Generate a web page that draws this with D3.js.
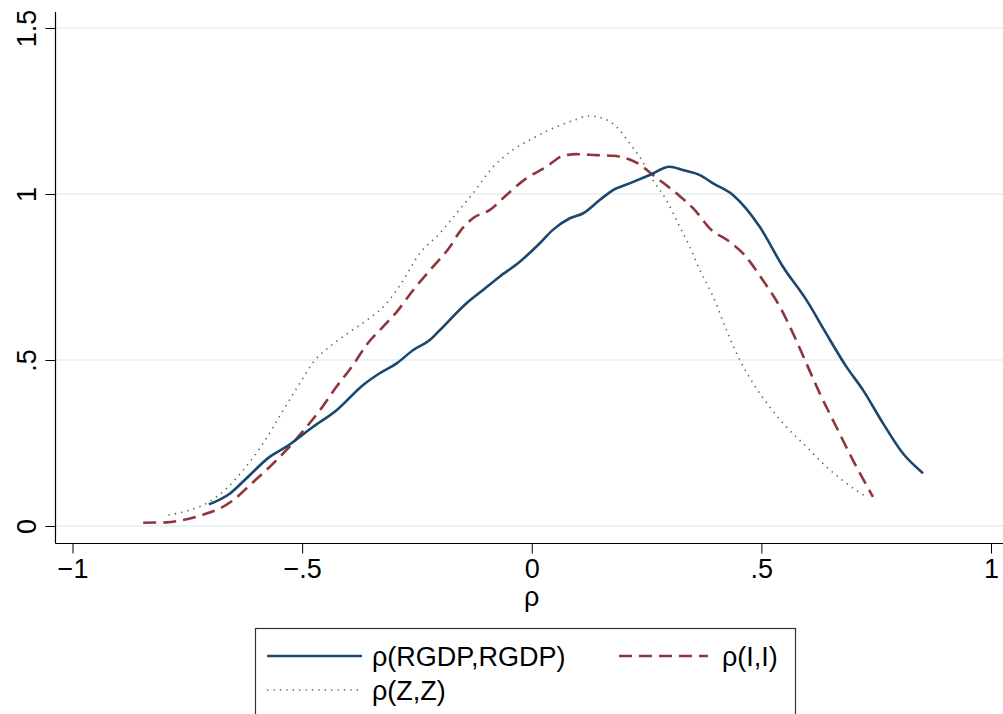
<!DOCTYPE html>
<html>
<head>
<meta charset="utf-8">
<script src="https://cdn.jsdelivr.net/npm/d3@7"></script>
<style>
  body { margin: 0; background: #fff; }
  svg { display: block; font-family: "Liberation Sans", Arial, sans-serif; }
  .axis text { font-size: 27px; fill: #000; }
  .axis line { stroke: #000; }
</style>
</head>
<body>
<div id="chart"></div>
<script>

// series: [rho, density]
var rgdp = [[-0.703,0.065],[-0.657,0.098],[-0.621,0.144],[-0.570,0.209],[-0.534,0.239],[-0.476,0.299],
    [-0.425,0.349],[-0.367,0.425],[-0.331,0.460],[-0.294,0.490],[-0.258,0.530],[-0.222,0.560],[-0.200,0.590],
    [-0.142,0.671],[-0.106,0.711],[-0.070,0.751],[-0.026,0.796],[0.017,0.851],[0.046,0.892],[0.083,0.927],
    [0.112,0.942],[0.148,0.982],[0.177,1.012],[0.213,1.032],[0.257,1.057],[0.300,1.082],[0.329,1.072],
    [0.366,1.057],[0.395,1.032],[0.438,0.997],[0.496,0.902],[0.547,0.781],[0.598,0.681],[0.641,0.580],
    [0.685,0.480],[0.721,0.410],[0.765,0.309],[0.808,0.219],[0.852,0.159]];

var invest = [[-0.846,0.010],[-0.795,0.011],[-0.766,0.016],[-0.723,0.031],[-0.679,0.053],[-0.650,0.078],
    [-0.614,0.123],[-0.570,0.179],[-0.534,0.229],[-0.490,0.299],[-0.461,0.349],[-0.425,0.420],[-0.389,0.485],
    [-0.360,0.545],[-0.324,0.600],[-0.294,0.645],[-0.258,0.711],[-0.215,0.781],[-0.178,0.841],[-0.157,0.886],
    [-0.128,0.927],[-0.091,0.952],[-0.055,0.997],[-0.012,1.047],[0.032,1.082],[0.068,1.115],[0.097,1.120],
    [0.141,1.117],[0.177,1.115],[0.213,1.104],[0.235,1.089],[0.264,1.057],[0.315,1.002],[0.358,0.947],
    [0.387,0.897],[0.431,0.856],[0.460,0.821],[0.503,0.741],[0.540,0.661],[0.569,0.580],[0.598,0.490],
    [0.627,0.400],[0.663,0.299],[0.699,0.199],[0.743,0.088]];

var zz = [[-0.791,0.033],[-0.744,0.048],[-0.702,0.073],[-0.664,0.114],[-0.628,0.169],[-0.585,0.249],
    [-0.541,0.349],[-0.505,0.430],[-0.472,0.500],[-0.440,0.540],[-0.396,0.585],[-0.353,0.626],[-0.316,0.671],
    [-0.284,0.731],[-0.244,0.821],[-0.200,0.882],[-0.164,0.942],[-0.128,1.002],[-0.084,1.082],[-0.041,1.133],
    [0.003,1.168],[0.046,1.198],[0.090,1.221],[0.123,1.235],[0.155,1.228],[0.184,1.203],[0.213,1.153],
    [0.235,1.112],[0.264,1.042],[0.293,0.982],[0.322,0.902],[0.344,0.841],[0.366,0.771],[0.395,0.691],
    [0.424,0.590],[0.453,0.500],[0.482,0.430],[0.518,0.359],[0.554,0.299],[0.598,0.239],[0.641,0.179],
    [0.685,0.129],[0.728,0.088]];

var xTicks = [-1, -0.5, 0, 0.5, 1];
var xTickLabels = ["\u22121", "\u2212.5", "0", ".5", "1"];
var yTicks = [0, 0.5, 1, 1.5];
var yTickLabels = ["0", ".5", "1", "1.5"];
var seriesNames = ["\u03c1(RGDP,RGDP)", "\u03c1(I,I)", "\u03c1(Z,Z)"];

var W = 1003, H = 714;

var svg = d3.select("#chart").append("svg")
    .attr("width", W)
    .attr("height", H);

// Scales
var x = d3.scaleLinear().domain([-1, 1]).range([72.5, 991]);
var y = d3.scaleLinear().domain([0, 1.5]).range([526, 28]);

var axisX = 55.5, axisY = 543.5;

// Gridlines
svg.append("g").selectAll("line")
    .data(yTicks)
    .enter().append("line")
    .attr("x1", axisX).attr("x2", W)
    .attr("y1", d => y(d)).attr("y2", d => y(d))
    .attr("stroke", "#eaf2f3")
    .attr("stroke-width", 2);

// Axes
var xAxis = d3.axisBottom(x)
    .tickValues(xTicks)
    .tickSize(10)
    .tickFormat((d, i) => xTickLabels[i]);
var gx = svg.append("g")
    .attr("class", "axis")
    .attr("transform", "translate(0," + axisY + ")")
    .call(xAxis);
gx.select(".domain").remove();
gx.selectAll("text").attr("dy", null).attr("y", 34.5);

var yAxis = d3.axisLeft(y)
    .tickValues(yTicks)
    .tickSize(10)
    .tickFormat((d, i) => yTickLabels[i]);
var gy = svg.append("g")
    .attr("class", "axis")
    .attr("transform", "translate(" + axisX + ",0)")
    .call(yAxis);
gy.select(".domain").remove();
gy.selectAll("text")
    .attr("x", null).attr("dy", null)
    .attr("text-anchor", "middle")
    .attr("transform", "translate(-20,0) rotate(-90)");

svg.append("line")
    .attr("x1", axisX).attr("x2", axisX)
    .attr("y1", 12).attr("y2", axisY)
    .attr("stroke", "#000").attr("stroke-width", 1.2);
svg.append("line")
    .attr("x1", axisX).attr("x2", W)
    .attr("y1", axisY).attr("y2", axisY)
    .attr("stroke", "#000").attr("stroke-width", 1.2);

// Axis title
svg.append("text")
    .attr("x", x(0))
    .attr("y", 606)
    .attr("text-anchor", "middle")
    .style("font-size", "27px")
    .text("\u03c1");

// Lines
var line = d3.line()
    .x(d => x(d[0]))
    .y(d => y(d[1]))
    .curve(d3.curveMonotoneX);

var styles = [
    {data: rgdp, color: "#1a476f", width: 2.6, dash: null},
    {data: invest, color: "#90353b", width: 2.6, dash: "13,7"},
    {data: zz, color: "#55752f", width: 1.6, dash: "1.4,5"}
];

svg.append("g").selectAll("path")
    .data([styles[2], styles[1], styles[0]])
    .enter().append("path")
    .attr("d", d => line(d.data))
    .attr("fill", "none")
    .attr("stroke", d => d.color)
    .attr("stroke-width", d => d.width)
    .attr("stroke-dasharray", d => d.dash)
    .attr("stroke-linejoin", "round");

// Legend
var legend = svg.append("g");
legend.append("rect")
    .attr("x", 255.5).attr("y", 628.5)
    .attr("width", 540).attr("height", 100)
    .attr("fill", "#fff")
    .attr("stroke", "#333")
    .attr("stroke-width", 1.2);

var legendPos = [
    {x: 267, y: 656, len: 95, tx: 372},
    {x: 619, y: 656, len: 89, tx: 722},
    {x: 267, y: 690, len: 95, tx: 372}
];

styles.forEach((s, i) => {
    var p = legendPos[i];
    legend.append("line")
        .attr("x1", p.x).attr("x2", p.x + p.len)
        .attr("y1", p.y).attr("y2", p.y)
        .attr("stroke", s.color)
        .attr("stroke-width", s.width)
        .attr("stroke-dasharray", s.dash);
    legend.append("text")
        .attr("x", p.tx)
        .attr("y", p.y + 10)
        .style("font-size", "27px")
        .text(seriesNames[i]);
});

</script>
</body>
</html>
